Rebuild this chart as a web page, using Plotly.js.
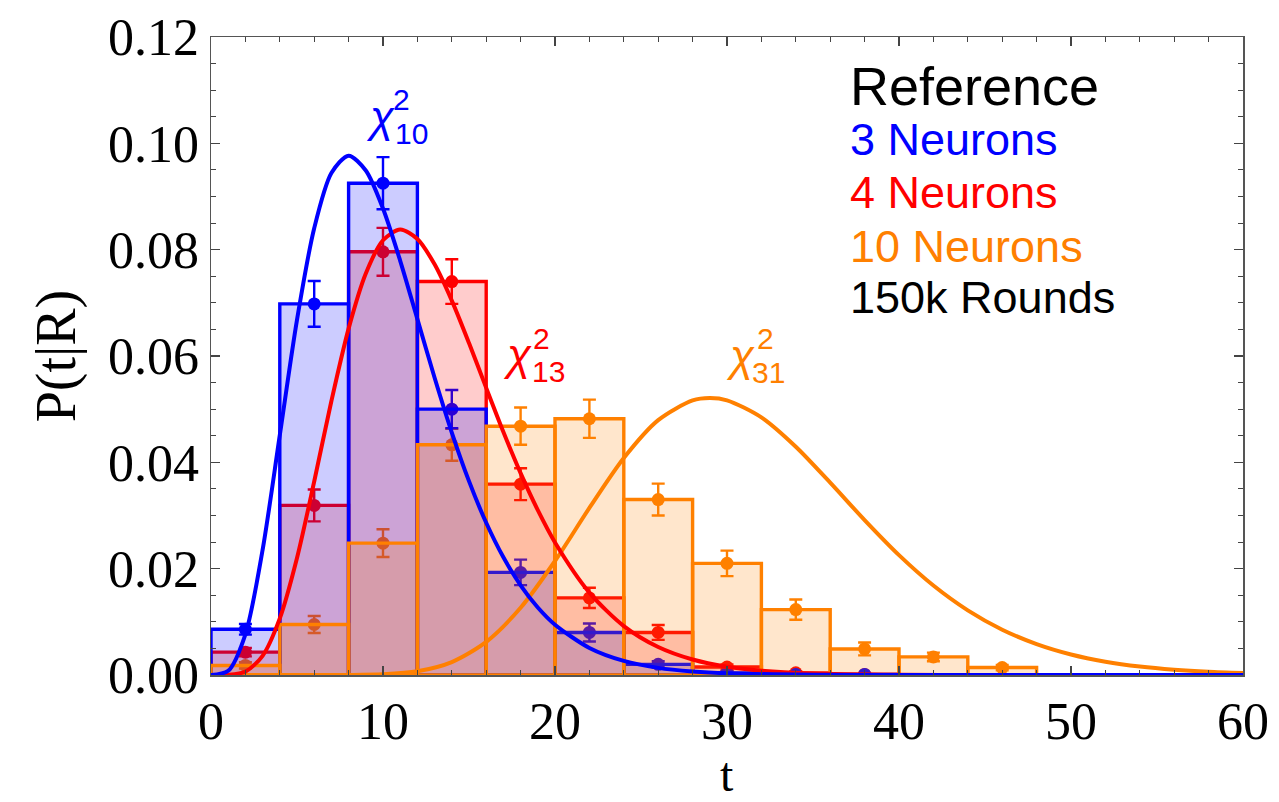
<!DOCTYPE html>
<html>
<head>
<meta charset="utf-8">
<script src="https://cdn.plot.ly/plotly-3.0.1.min.js"></script>
<style>
  html, body { margin: 0; padding: 0; background: #fff; }
  #chart { width: 1279px; height: 802px; }
</style>
</head>
<body>
<div id="chart"></div>
<script>
// Histogram bins: width 4, centres 2, 6, 10, ...
const binCentres = [2, 6, 10, 14, 18, 22, 26, 30, 34, 38, 42, 46];
const binWidth = 4;

// Measured P(t|R) per bin and their statistical errors
const blueVals = [0.0086, 0.0698, 0.0925, 0.0500, 0.0193, 0.0080, 0.0020, 0.0004, 0.0001, 0.0001];
const blueErr  = [0.0010, 0.0043, 0.0049, 0.0036, 0.0024, 0.0017, 0.0006, 0.0003, 0.0002, 0.0002];
const redVals  = [0.0043, 0.0319, 0.0796, 0.0740, 0.0359, 0.0145, 0.0080, 0.0015, 0.0004, 0.0001];
const redErr   = [0.0008, 0.0030, 0.0045, 0.0042, 0.0030, 0.0019, 0.0014, 0.0005, 0.0003, 0.0002];
const orangeVals = [0.0018, 0.0095, 0.0248, 0.0433, 0.0468, 0.0482, 0.0330, 0.0210, 0.0123, 0.0049, 0.0034, 0.0014];
const orangeErr  = [0.0006, 0.0016, 0.0026, 0.0030, 0.0035, 0.0036, 0.0030, 0.0024, 0.0019, 0.0012, 0.0008, 0.0005];

// Reference chi-square densities
const chi10T = [0, 1, 2, 3, 4, 5, 6, 7, 8, 9, 10, 11, 12, 13, 14, 15, 16, 17, 18, 19, 20, 22, 24, 26, 28, 30, 35, 40, 50, 60];
const chi10P = [0, 0.00079, 0.00766, 0.02353, 0.04511, 0.06680, 0.08402, 0.09441, 0.09768, 0.09490, 0.08773,
                0.07791, 0.06693, 0.05591, 0.04561, 0.03646, 0.02863, 0.02213, 0.01687, 0.01270, 0.00946,
                0.00509, 0.00265, 0.00134, 0.00067, 0.00032, 0.00005, 0.00001, 0, 0];
const chi13T = [0, 1, 2, 3, 4, 5, 6, 7, 8, 9, 10, 11, 12, 13, 14, 15, 16, 17, 18, 19, 20, 22, 24, 26, 28, 30, 32, 35, 40, 45, 50, 60];
const chi13P = [0, 0.00002, 0.00064, 0.00360, 0.01064, 0.02201, 0.03639, 0.05153, 0.06515, 0.07552, 0.08177,
                0.08378, 0.08200, 0.07724, 0.07042, 0.06243, 0.05400, 0.04571, 0.03797, 0.03100, 0.02493,
                0.01549, 0.00920, 0.00526, 0.00291, 0.00156, 0.00082, 0.00030, 0.00005, 0.00001, 0, 0];
const chi31T = [0, 6, 8, 10, 12, 14, 16, 18, 20, 22, 24, 26, 28, 29, 30, 32, 34, 36, 38, 40, 42, 44, 46, 48, 50, 52, 54, 56, 58, 60];
const chi31P = [0, 0, 0.00001, 0.00014, 0.00071, 0.00244, 0.00623, 0.01265, 0.02144, 0.03142, 0.04081, 0.04793,
                0.05164, 0.05209, 0.05166, 0.04845, 0.04293, 0.03617, 0.02914, 0.02255, 0.01683, 0.01216,
                0.00852, 0.00581, 0.00386, 0.00251, 0.00160, 0.00100, 0.00061, 0.00037];

const xTickVals = [0, 10, 20, 30, 40, 50, 60];
const yTickVals = [0, 0.02, 0.04, 0.06, 0.08, 0.10, 0.12];

const BLUE = '#0000ff', RED = '#ff0000', ORANGE = '#ff8000';

function points(vals, errs, color) {
  return {
    type: 'scatter', mode: 'markers', xaxis: 'x', yaxis: 'y',
    x: binCentres.slice(0, vals.length), y: vals,
    marker: { color: color, size: 13 },
    error_y: { type: 'data', array: errs, visible: true, color: color, thickness: 2.4, width: 6.5 },
    showlegend: false, hoverinfo: 'skip'
  };
}
function bars(vals, fill, color) {
  return {
    type: 'bar', xaxis: 'x2', yaxis: 'y2',
    x: binCentres.slice(0, vals.length), y: vals, width: binWidth,
    marker: { color: fill, line: { color: color, width: 3.4 } },
    showlegend: false, hoverinfo: 'skip'
  };
}
function curve(t, p, color) {
  return {
    type: 'scatter', mode: 'lines', xaxis: 'x2', yaxis: 'y2',
    x: t, y: p, line: { color: color, width: 4, shape: 'spline', smoothing: 0.8 },
    showlegend: false, hoverinfo: 'skip'
  };
}

// Points sit underneath the translucent bars, so they are on the base axes
const data = [
  points(orangeVals, orangeErr, ORANGE),
  points(redVals, redErr, RED),
  points(blueVals, blueErr, BLUE),
  bars(redVals, 'rgba(255,0,0,0.2)', RED),
  bars(blueVals, 'rgba(0,0,255,0.2)', BLUE),
  bars(orangeVals, 'rgba(255,128,0,0.2)', ORANGE),
  curve(chi31T, chi31P, ORANGE),
  curve(chi13T, chi13P, RED),
  curve(chi10T, chi10P, BLUE)
];

const serif = 'Liberation Serif, Times New Roman, serif';
const sans = 'Liberation Sans, Arial, Helvetica, sans-serif';
const axisCommon = {
  ticks: 'inside', ticklen: 9, tickwidth: 1.2, tickcolor: '#444',
  showline: true, linecolor: '#555', linewidth: 1.5, mirror: 'allticks',
  showgrid: false, zeroline: false, fixedrange: true,
  tickfont: { family: serif, size: 52, color: '#000' }
};

const legendLines = [
  { text: 'Reference', color: '#000', size: 54, y: 0.9230 },
  { text: '3 Neurons', color: BLUE, size: 45, y: 0.8395 },
  { text: '4 Neurons', color: RED, size: 45, y: 0.7564 },
  { text: '10 Neurons', color: ORANGE, size: 45, y: 0.6718 },
  { text: '150k Rounds', color: '#000', size: 45, y: 0.5918 }
];

const annotations = legendLines.map(l => ({
  xref: 'paper', yref: 'paper', x: 0.617, y: l.y, xanchor: 'left', yanchor: 'middle',
  text: l.text, showarrow: false, font: { family: sans, size: l.size, color: l.color }
}));

// x-axis title, placed below the tick labels
annotations.push({
  xref: 'paper', yref: 'paper', x: 0.5, y: -0.1552, xanchor: 'center', yanchor: 'middle',
  text: 't', showarrow: false, font: { family: serif, size: 48, color: '#000' }
});

// chi-square labels: symbol, subscript (degrees of freedom), superscript 2
function chiLabel(color, chiXY, subXY, supXY, dof) {
  return [
    { x: chiXY[0], y: chiXY[1], text: '<i>χ</i>', font: { family: sans, size: 44, color: color } },
    { x: subXY[0], y: subXY[1], text: dof, font: { family: sans, size: 30, color: color } },
    { x: supXY[0], y: supXY[1], text: '2', font: { family: sans, size: 30, color: color } }
  ].map(a => Object.assign(a, { xref: 'x', yref: 'y', xanchor: 'center', yanchor: 'middle', showarrow: false }));
}
annotations.push(...chiLabel(BLUE, [9.83, 0.1050], [11.63, 0.1019], [11.10, 0.1083], '10'));
annotations.push(...chiLabel(RED, [17.82, 0.0602], [19.62, 0.0571], [19.22, 0.0632], '13'));
annotations.push(...chiLabel(ORANGE, [30.78, 0.0601], [32.44, 0.0569], [32.21, 0.0632], '31'));

const layout = {
  width: 1279, height: 802,
  margin: { l: 211, r: 36, t: 37, b: 127 },
  paper_bgcolor: '#fff', plot_bgcolor: '#fff',
  barmode: 'overlay', bargap: 0,
  showlegend: false,
  xaxis: Object.assign({}, axisCommon, {
    range: [0, 60], tickvals: xTickVals, ticktext: xTickVals.map(String),
    minor: { dtick: 2, tick0: 0, ticks: 'inside', ticklen: 5, tickwidth: 1, tickcolor: '#444' }
  }),
  yaxis: Object.assign({}, axisCommon, {
    range: [0, 0.12], tickvals: yTickVals, ticktext: yTickVals.map(v => v.toFixed(2)),
    minor: { dtick: 0.005, tick0: 0, ticks: 'inside', ticklen: 5, tickwidth: 1, tickcolor: '#444' },
    title: { text: 'P(t|R)', font: { family: serif, size: 56, color: '#000' }, standoff: 14 }
  }),
  xaxis2: { overlaying: 'x', range: [0, 60], visible: false, fixedrange: true },
  yaxis2: { overlaying: 'y', range: [0, 0.12], visible: false, fixedrange: true },
  annotations: annotations
};

Plotly.newPlot('chart', data, layout, { displayModeBar: false, staticPlot: true });
</script>
</body>
</html>
